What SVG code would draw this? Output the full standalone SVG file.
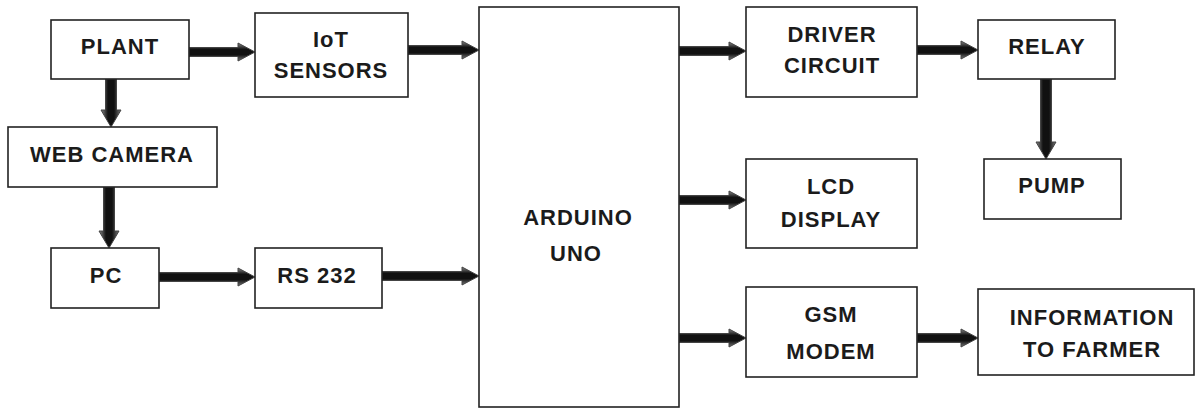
<svg xmlns="http://www.w3.org/2000/svg" width="1202" height="409" viewBox="0 0 1202 409">
<defs>
<linearGradient id="gh" x1="0" y1="0" x2="0" y2="1">
<stop offset="0" stop-color="#8a8a8a"/><stop offset="0.35" stop-color="#111"/><stop offset="0.65" stop-color="#111"/><stop offset="1" stop-color="#7a7a7a"/>
</linearGradient>
<linearGradient id="gv" x1="0" y1="0" x2="1" y2="0">
<stop offset="0" stop-color="#8a8a8a"/><stop offset="0.35" stop-color="#111"/><stop offset="0.65" stop-color="#111"/><stop offset="1" stop-color="#7a7a7a"/>
</linearGradient>
</defs>
<style>
rect.b{fill:#fff;stroke:#222;stroke-width:1.6}
text{font-family:"Liberation Sans",Arial,sans-serif;font-weight:bold;font-size:22px;fill:#1b1b1b;text-anchor:middle;letter-spacing:1px}
.ah{fill:url(#gh);stroke:#444;stroke-width:1}
.av{fill:url(#gv);stroke:#444;stroke-width:1}
</style>
<rect width="1202" height="409" fill="#fff"/>
<g id="connectors">
<path class="ah" d="M189,47.5 H238 V43 L255,52 L238,61 V56.5 H189 Z"/>
<path class="ah" d="M408,45.5 H462 V41 L479,50 L462,59 V54.5 H408 Z"/>
<path class="ah" d="M159,272.5 H238 V268 L255,277 L238,286 V281.5 H159 Z"/>
<path class="ah" d="M382,271.5 H462 V267 L479,276 L462,285 V280.5 H382 Z"/>
<path class="ah" d="M679,46.5 H729 V42 L746,51 L729,60 V55.5 H679 Z"/>
<path class="ah" d="M917,45.5 H961 V41 L978,50 L961,59 V54.5 H917 Z"/>
<path class="ah" d="M679,195.5 H729 V191 L746,200 L729,209 V204.5 H679 Z"/>
<path class="ah" d="M679,333.5 H729 V329 L746,338 L729,347 V342.5 H679 Z"/>
<path class="ah" d="M917,333.5 H961 V329 L978,338 L961,347 V342.5 H917 Z"/>
<path class="av" d="M105.5,79 V110 H101 L111,127 L121,110 H116.5 V79 Z"/>
<path class="av" d="M103.5,187 V231 H99 L109,248 L119,231 H114.5 V187 Z"/>
<path class="av" d="M1040.5,79 V142 H1036 L1046,159 L1056,142 H1051.5 V79 Z"/>
</g>
<g id="plant"><rect class="b" x="51" y="20" width="138" height="59"/><text x="120" y="54">PLANT</text></g>
<g id="iot"><rect class="b" x="255" y="13" width="153" height="84"/><text x="331" y="47">IoT</text><text x="331" y="78">SENSORS</text></g>
<g id="webcam"><rect class="b" x="8" y="127" width="209" height="60"/><text x="112" y="162">WEB CAMERA</text></g>
<g id="pc"><rect class="b" x="51" y="248" width="108" height="60"/><text x="106" y="283">PC</text></g>
<g id="rs232"><rect class="b" x="255" y="248" width="127" height="60"/><text x="317" y="283">RS 232</text></g>
<g id="arduino"><rect class="b" x="479" y="7" width="200" height="400"/><text x="578" y="225">ARDUINO</text><text x="576" y="261">UNO</text></g>
<g id="driver"><rect class="b" x="746" y="7" width="171" height="90"/><text x="832" y="42">DRIVER</text><text x="832" y="73">CIRCUIT</text></g>
<g id="relay"><rect class="b" x="978" y="20" width="137" height="59"/><text x="1047" y="54">RELAY</text></g>
<g id="pump"><rect class="b" x="984" y="159" width="137" height="60"/><text x="1052" y="193">PUMP</text></g>
<g id="lcd"><rect class="b" x="746" y="159" width="171" height="89"/><text x="831" y="194">LCD</text><text x="831" y="227">DISPLAY</text></g>
<g id="gsm"><rect class="b" x="746" y="287" width="171" height="90"/><text x="831" y="322">GSM</text><text x="831" y="359">MODEM</text></g>
<g id="info"><rect class="b" x="978" y="289" width="216" height="86"/><text x="1092" y="325">INFORMATION</text><text x="1092" y="357">TO FARMER</text></g>
</svg>
